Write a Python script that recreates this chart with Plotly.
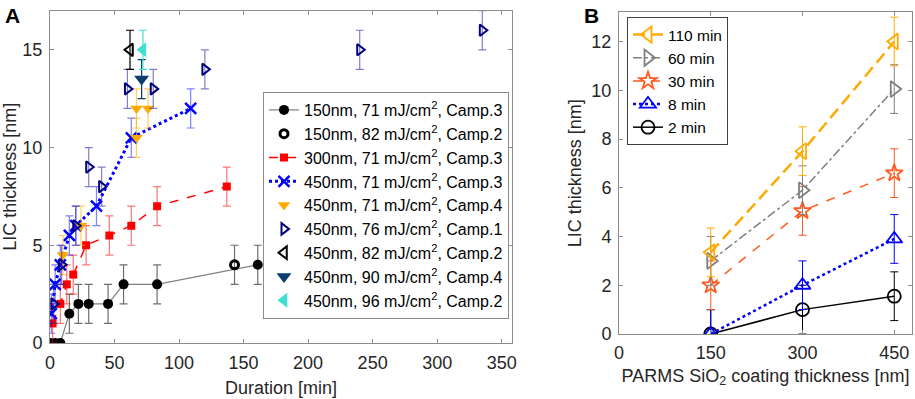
import plotly.graph_objects as go

# ---------------- Panel A data ----------------
s1_x = [0, 4, 8, 15, 22, 30, 45, 57, 83, 161]
s1_y = [0, 0, 0, 1.5, 2, 2, 2, 3, 3, 4]
s1_e = [0, 0, 0, 1, 1, 1, 1, 1, 1, 1]

s2_x = [143]
s2_y = [4]
s2_e = [1]

s3_x = [2, 8, 13, 18, 28, 46, 63, 83, 137]
s3_y = [1, 2, 3, 3.5, 5, 5.5, 6, 7, 8]
s3_e = [1, 1, 1, 1, 1, 1, 1, 1, 1]

s4_x = [1, 4, 8, 15, 20, 36, 63, 109]
s4_y = [1.5, 3, 4, 5.5, 6, 7, 10.5, 12]
s4_e = [1, 1, 1, 1, 1, 1, 1, 1]

s5_x = [10, 24, 67, 67, 76]
s5_y = [4.5, 6, 10.5, 12, 12]
s5_e = [1, 1, 1, 1, 1]

s6_x = [3, 9, 20, 30, 40, 60, 80, 120, 240, 335]
s6_y = [2, 4, 6, 9, 8, 13, 13, 14, 15, 16]
s6_e = [1, 1, 1, 1, 1, 1, 1, 1, 1, 1]

s7_x = [62]
s7_y = [15]
s7_e = [1]

s8_x = [71]
s8_y = [13.5]
s8_e = [1]

s9_x = [72]
s9_y = [15]
s9_e = [1]

a_names = [
    "150nm, 71 mJ/cm<sup>2</sup>, Camp.3",
    "150nm, 82 mJ/cm<sup>2</sup>, Camp.2",
    "300nm, 71 mJ/cm<sup>2</sup>, Camp.3",
    "450nm, 71 mJ/cm<sup>2</sup>, Camp.3",
    "450nm, 71 mJ/cm<sup>2</sup>, Camp.4",
    "450nm, 76 mJ/cm<sup>2</sup>, Camp.1",
    "450nm, 82 mJ/cm<sup>2</sup>, Camp.2",
    "450nm, 90 mJ/cm<sup>2</sup>, Camp.4",
    "450nm, 96 mJ/cm<sup>2</sup>, Camp.2",
]
a_xticks = [0, 50, 100, 150, 200, 250, 300, 350]
a_yticks = [0, 5, 10, 15]

# ---------------- Panel B data ----------------
b_x = [150, 300, 450]
b_2min = [0, 1.0, 1.55]
b_8min = [0, 2.0, 3.9]
b_30min = [2.0, 5.05, 6.6]
b_60min = [3.0, 5.9, 10.05]
b_110min = [3.35, 7.5, 12.0]
b_err = [1, 1, 1]
b_xticks = [0, 150, 300, 450]
b_yticks = [0, 2, 4, 6, 8, 10, 12]

FONT = "Liberation Sans, Arial, sans-serif"
TXT = "#262626"

fig = go.Figure()


def err(arr, color, th=1.2, w=4):
    return dict(type="data", array=arr, color=color, thickness=th, width=w, visible=True)


# Panel A traces
fig.add_trace(go.Scatter(x=s1_x, y=s1_y, mode="lines+markers", name=a_names[0],
                         line=dict(color="#7f7f7f", width=1.2),
                         marker=dict(symbol="circle", size=10, color="black"),
                         error_y=err(s1_e, "#6e6e6e")))
fig.add_trace(go.Scatter(x=s2_x, y=s2_y, mode="markers", name=a_names[1],
                         marker=dict(symbol="circle-open", size=8, color="black",
                                     line=dict(width=3, color="black")),
                         error_y=err(s2_e, "#6e6e6e")))
fig.add_trace(go.Scatter(x=s3_x, y=s3_y, mode="lines+markers", name=a_names[2],
                         line=dict(color="#ff0000", width=1.5, dash="dash"),
                         marker=dict(symbol="square", size=8, color="#ff0000"),
                         error_y=err(s3_e, "rgba(255,0,0,0.55)")))
fig.add_trace(go.Scatter(x=s4_x, y=s4_y, mode="lines+markers", name=a_names[3],
                         line=dict(color="#0000ff", width=3, dash="dot"),
                         marker=dict(symbol="x-thin-open", size=11, color="#0000ff",
                                     line=dict(width=2.5, color="#0000ff")),
                         error_y=err(s4_e, "rgba(0,0,255,0.5)")))
fig.add_trace(go.Scatter(x=s5_x, y=s5_y, mode="markers", name=a_names[4],
                         marker=dict(symbol="triangle-down", size=11, color="#ffaa00"),
                         error_y=err(s5_e, "rgba(255,170,0,0.6)")))
fig.add_trace(go.Scatter(x=s6_x, y=s6_y, mode="markers", name=a_names[5],
                         marker=dict(symbol="triangle-right-open", size=10, color="#000080",
                                     line=dict(width=2, color="#000080")),
                         error_y=err(s6_e, "rgba(40,40,170,0.6)")))
fig.add_trace(go.Scatter(x=s7_x, y=s7_y, mode="markers", name=a_names[6],
                         marker=dict(symbol="triangle-left-open", size=11, color="black",
                                     line=dict(width=2, color="black")),
                         error_y=err(s7_e, "black")))
fig.add_trace(go.Scatter(x=s8_x, y=s8_y, mode="markers", name=a_names[7],
                         marker=dict(symbol="triangle-down", size=13, color="#0b3d70"),
                         error_y=err(s8_e, "#0b3d70")))
fig.add_trace(go.Scatter(x=s9_x, y=s9_y, mode="markers", name=a_names[8],
                         marker=dict(symbol="triangle-left", size=13, color="#3ee0cf"),
                         error_y=err(s9_e, "#3ee0cf")))

# Panel B traces (added bottom-first, legend reversed)
b_series = [
    ("2 min", b_2min, "black", "solid", 1.5, "circle-open", 13),
    ("8 min", b_8min, "#0000ff", "dot", 2.5, "triangle-up-open", 14),
    ("30 min", b_30min, "#ff5a1f", "dash", 1.5, "star-open", 13),
    ("60 min", b_60min, "#808080", "dashdot", 1.5, "triangle-right-open", 14),
    ("110 min", b_110min, "#ffaa00", "dash", 2.5, "triangle-left-open", 14),
]
for name, ys, col, dash, lw, sym, ms in b_series:
    dash_style = "12px,6px" if name == "110 min" else dash
    fig.add_trace(go.Scatter(x=b_x, y=ys, mode="lines+markers", name=name,
                             xaxis="x2", yaxis="y2", legend="legend2",
                             line=dict(color=col, width=lw, dash=dash_style),
                             marker=dict(symbol=sym, size=ms, color=col,
                                         line=dict(width=1.8, color=col)),
                             error_y=err(b_err, col, th=1.0, w=4)))

axis_common = dict(showgrid=False, zeroline=False, showline=True, linecolor="#8c8c8c",
                   linewidth=1, mirror="ticks", ticks="inside", ticklen=4,
                   tickcolor="#8c8c8c", automargin=False,
                   tickfont=dict(size=18, color=TXT, family=FONT))
TF = dict(size=18, color=TXT, family=FONT)

fig.update_layout(
    template="none",
    width=915, height=399,
    margin=dict(l=0, r=0, t=0, b=0, pad=0),
    paper_bgcolor="white", plot_bgcolor="white",
    font=dict(family=FONT, color=TXT),
    xaxis=dict(domain=[50 / 915, 512 / 915], range=[0, 358], tickvals=a_xticks,
               ticklabelstandoff=3,
               title=dict(text="Duration [min]", font=TF, standoff=9),
               **axis_common),
    yaxis=dict(domain=[(399 - 343) / 399, (399 - 10.7) / 399], range=[0, 17], tickvals=a_yticks,
               ticklabelstandoff=3,
               title=dict(text="LIC thickness [nm]", font=TF, standoff=9),
               **axis_common),
    xaxis2=dict(domain=[619 / 915, 912 / 915], range=[0, 479], tickvals=b_xticks, anchor="y2",
                ticklabelstandoff=2,
                title=dict(text="PARMS SiO<sub>2</sub> coating thickness [nm]", font=TF, standoff=7),
                **axis_common),
    yaxis2=dict(domain=[(399 - 334) / 399, (399 - 12.3) / 399], range=[0, 13.2], tickvals=b_yticks,
                anchor="x2", ticklabelstandoff=3,
                title=dict(text="LIC thickness [nm]", font=TF, standoff=5),
                **axis_common),
    legend=dict(x=509 / 915, y=(399 - 92) / 399, xanchor="right", yanchor="top",
                bgcolor="white", bordercolor="#8c8c8c", borderwidth=1,
                font=dict(size=16, color="black", family=FONT), tracegroupgap=0),
    legend2=dict(x=627 / 915, y=(399 - 17) / 399, xanchor="left", yanchor="top",
                 bgcolor="white", bordercolor="#404040", borderwidth=1, traceorder="reversed",
                 font=dict(size=15.5, color="black", family=FONT), tracegroupgap=0),
    showlegend=True,
    annotations=[
        dict(text="<b>A</b>", x=3 / 915, y=1 - 2 / 399, xref="paper", yref="paper",
             xanchor="left", yanchor="top", showarrow=False, font=dict(size=21, color="black")),
        dict(text="<b>B</b>", x=582 / 915, y=1 - 2 / 399, xref="paper", yref="paper",
             xanchor="left", yanchor="top", showarrow=False, font=dict(size=21, color="black")),
    ],
)

fig.write_html("out.html",
               config={"displayModeBar": False},
               post_script="document.body.style.margin='0';document.body.style.padding='0';"
                           "document.body.style.overflow='hidden';")
